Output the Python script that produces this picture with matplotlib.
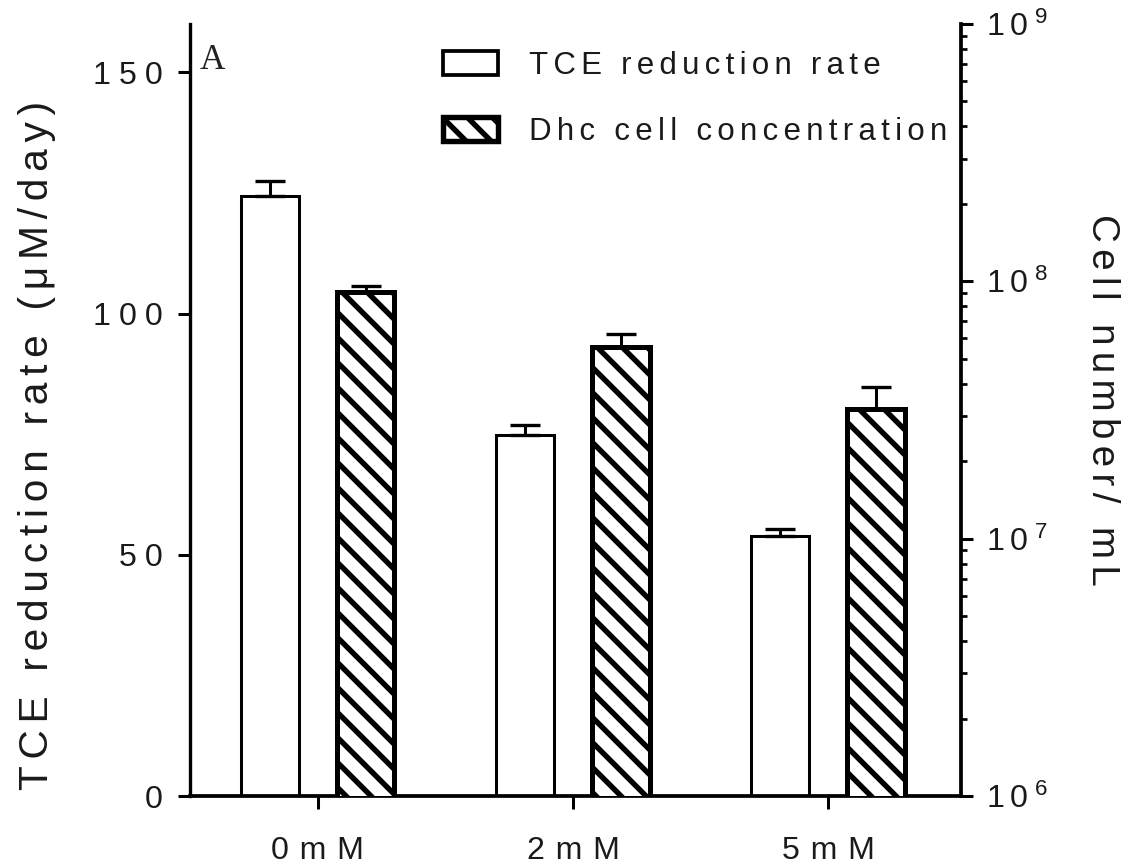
import matplotlib
matplotlib.use("Agg")
import matplotlib.pyplot as plt
from matplotlib.patches import Patch
from matplotlib.ticker import NullFormatter, LogLocator
import numpy as np

# ---- data ----
categories = ["0mM", "2mM", "5mM"]
tce_rate = [124.4, 74.9, 53.9]          # uM/day
tce_err = [3.1, 1.9, 1.5]
dhc_cells = [9.06e7, 5.58e7, 3.18e7]    # cells/mL
dhc_err = [0.51e7, 0.64e7, 0.72e7]
left_ticks = [0, 50, 100, 150]
right_ticks = [1e6, 1e7, 1e8, 1e9]
right_exps = [6, 7, 8, 9]
series_labels = ["TCE reduction rate", "Dhc cell concentration"]
ylabel_left = "TCE reduction rate (\u03bcM/day)"
ylabel_right = "Cell number/ mL"

FAM = ["Liberation Sans", "DejaVu Sans"]
plt.rcParams["font.family"] = FAM
plt.rcParams["hatch.linewidth"] = 2.6
plt.rcParams["mathtext.default"] = "regular"

TXT = "#1a1a1a"


def sp(s, ch="\u2006"):
    return ch.join(s)


fig = plt.figure(figsize=(7.5, 866 / 150), dpi=150)
ax = fig.add_axes([190 / 1125, 70 / 866, 771 / 1125, 772 / 866])
ax2 = ax.twinx()

x = np.arange(len(categories))
off = 0.1875
w = 0.227

ax.bar(x - off, tce_rate, width=w, facecolor="white", edgecolor="black", linewidth=1.45, zorder=2)
ax.errorbar(x - off, tce_rate, yerr=[np.zeros(3), tce_err], fmt="none", ecolor="black",
            elinewidth=1.45, capsize=7.4, capthick=1.6, zorder=3)

ax2.set_yscale("log")
ax2.bar(x + off, dhc_cells, width=w, facecolor="white", edgecolor="black", linewidth=2.4,
        hatch="\\\\", zorder=2)
ax2.errorbar(x + off, dhc_cells, yerr=[np.zeros(3), dhc_err], fmt="none", ecolor="black",
             elinewidth=1.45, capsize=7.4, capthick=1.6, zorder=3)

ax.set_xlim(-0.5, 2.52)
ax.set_ylim(0, 160)
ax2.set_ylim(1e6, 1e9)

ax.set_xticks(x, [sp(c, "\u2004") for c in categories])
ax.set_yticks(left_ticks, [sp(str(t), "\u2005") for t in left_ticks])
ax2.set_yticks(right_ticks, [r"$1\,0^{\,\,%d}$" % e for e in right_exps])
ax2.yaxis.set_minor_locator(LogLocator(base=10, subs=np.arange(2, 10)))
ax2.yaxis.set_minor_formatter(NullFormatter())

for s in ["top", "right"]:
    ax.spines[s].set_visible(False)
for s in ["top", "left", "bottom"]:
    ax2.spines[s].set_visible(False)
ax.spines["left"].set_linewidth(1.6)
ax.spines["bottom"].set_linewidth(1.8)
ax2.spines["right"].set_linewidth(1.8)

ax.tick_params(axis="y", length=5.8, width=1.45, pad=7.5, labelsize=15.4, labelcolor=TXT)
ax.tick_params(axis="x", length=6.2, width=1.45, pad=13, labelsize=15.4, labelcolor=TXT)
ax2.tick_params(axis="y", which="major", length=5.8, width=1.45, pad=6, labelsize=15.4, labelcolor=TXT)
ax2.tick_params(axis="y", which="minor", length=3.0, width=1.3)

ax.set_ylabel(sp(ylabel_left), fontsize=19.5, color=TXT, va="center", rotation_mode="default")
ax.yaxis.set_label_coords((37 - 190) / 771, (796 - 445) / 772)
ax2.set_ylabel(sp(ylabel_right), fontsize=18.5, color=TXT, rotation=-90, va="center",
               rotation_mode="default")
ax2.yaxis.set_label_coords((1102 - 190) / 771, (796 - 400) / 772)

fig.text(200 / 1125, 1 - 44 / 866, "A", family=["Liberation Serif", "DejaVu Serif"],
         fontsize=17, color="#222222", ha="left", va="top")

handles = [Patch(facecolor="white", edgecolor="black", linewidth=1.8),
           Patch(facecolor="white", edgecolor="black", linewidth=2.6, hatch="\\\\")]
ax2.legend(handles, [sp(l) for l in series_labels], loc="upper left",
           bbox_to_anchor=(443 / 1125, 1 - 51 / 866), bbox_transform=fig.transFigure,
           borderaxespad=0, borderpad=0, handlelength=1.75, handleheight=0.8,
           handletextpad=1.0, labelspacing=1.15, frameon=False, fontsize=15.0,
           labelcolor=TXT)

fig.savefig("out.png", dpi=150)
